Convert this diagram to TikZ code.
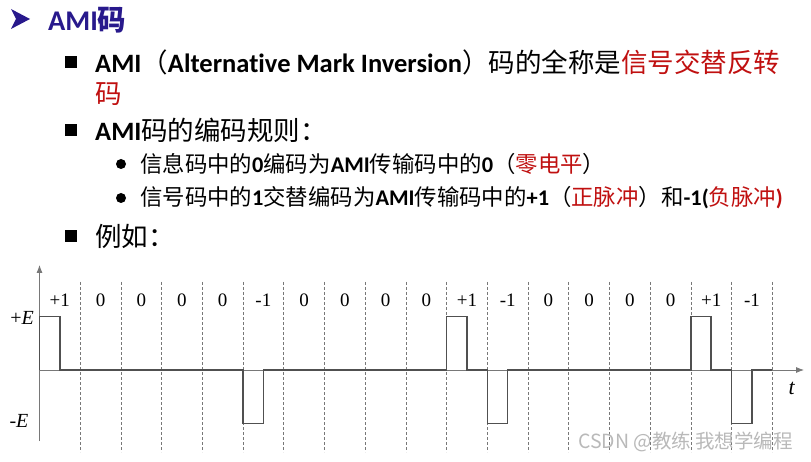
\documentclass[tikz,border=0pt]{standalone}
\usepackage{fontspec}
\setmainfont{Liberation Serif}
\newfontfamily\cjk{Noto Sans CJK SC}
\newfontfamily\latb[Ligatures=NoCommon]{Carlito}
\usetikzlibrary{arrows.meta}
\definecolor{titleblue}{RGB}{40,25,140}
\definecolor{redtxt}{RGB}{192,16,16}
\definecolor{axisgray}{RGB}{120,120,120}
\definecolor{wavegray}{RGB}{80,80,80}
\newcommand\lb[1]{{\latb\bfseries #1}}
\newcommand\rd[1]{\textcolor{redtxt}{#1}}
\def\sw{40.71}
\begin{document}
\begin{tikzpicture}[x=1pt,y=-1pt,
  txt/.style={anchor=west,inner sep=0pt,font=\cjk\fontsize{26.5}{30}\selectfont},
  subtxt/.style={anchor=west,inner sep=0pt,font=\cjk\fontsize{22.4}{26}\selectfont},
  sqbullet/.style={rectangle,fill=black,inner sep=0pt,minimum size=12pt},
  dotbullet/.style={circle,fill=black,inner sep=0pt,minimum size=10pt},
  lab/.style={inner sep=0pt,font=\fontsize{19}{22}\selectfont},
  axisline/.style={axisgray,line width=0.8pt},
  dashline/.style={axisgray,line width=0.6pt,dash pattern=on 3pt off 2pt},
  wave/.style={wavegray,line width=1.5pt,line join=miter}]
\useasboundingbox (0,0) rectangle (811,462);
\fill[white] (0,0) rectangle (811,462);
% title
\fill[titleblue] (11,9) -- (30,19) -- (11,29) -- (16,19) -- cycle;
\node[anchor=west,inner sep=0pt,text=titleblue,font=\fontsize{28.5}{32}\selectfont] (title) at (48,20) {\lb{AMI}{\cjk\bfseries 码}};
% bullet lines
\node[sqbullet] (b1) at (70.5,62) {};
\node[txt] (t1) at (95,62) {\lb{AMI}（\lb{Alternative Mark Inversion}）码的全称是\rd{信号交替反转}};
\node[txt] (t1b) at (95,94) {\rd{码}};
\node[sqbullet] (b2) at (70.5,130) {};
\node[txt] (t2) at (95,130) {\lb{AMI}码的编码规则：};
\node[dotbullet] (c1) at (121,164) {};
\node[subtxt] (t3) at (140,164) {信息码中的\lb{0}编码为\lb{AMI}传输码中的\lb{0}（\rd{零电平}）};
\node[dotbullet] (c2) at (121,198) {};
\node[subtxt] (t4) at (140,198) {信号码中的\lb{1}交替编码为\lb{AMI}传输码中的\lb{+1}（\rd{正脉冲}）和\lb{-1(}\rd{负脉冲\lb{)}}};
\node[sqbullet] (b3) at (70.5,236) {};
\node[txt] (t5) at (95,236) {例如：};
% axes
\coordinate (O) at (39.5,370);
\coordinate (ytop) at (39.5,265);
\coordinate (ybot) at (39.5,441);
\coordinate (xend) at (804,370);
\foreach \k in {1,...,18} \draw[dashline] ({39.5+\sw*\k},282) -- ({39.5+\sw*\k},452);
\draw[axisline,-{Latex[length=8pt,width=6pt]}] (ybot) -- (ytop);
\draw[axisline,-{Latex[length=8pt,width=6pt]}] (O) -- (xend);
\foreach \l [count=\i from 0] in {+1,0,0,0,0,-1,0,0,0,0,+1,-1,0,0,0,0,+1,-1}
  \node[lab] at ({39.5+\sw*(\i+0.5)},300) {\l};
\draw[wave] (O) |- ({39.5+0.5*\sw},316.7) |- ({39.5+5*\sw},370)
  |- ({39.5+5.5*\sw},423.3) |- ({39.5+10*\sw},370)
  |- ({39.5+10.5*\sw},316.7) |- ({39.5+11*\sw},370)
  |- ({39.5+11.5*\sw},423.3) |- ({39.5+16*\sw},370)
  |- ({39.5+16.5*\sw},316.7) |- ({39.5+17*\sw},370)
  |- ({39.5+17.5*\sw},423.3) |- ({39.5+18*\sw},370);
\node[lab,font=\fontsize{20}{24}\selectfont] (pE) at (22,318) {+\textit{E}};
\node[lab,font=\fontsize{20}{24}\selectfont] (mE) at (19,421) {-\textit{E}};
\node[lab,font=\fontsize{22}{24}\selectfont] (tl) at (792,388) {\textit{t}};
\node[anchor=west,inner sep=0pt,text=gray!55,font=\cjk\fontsize{19.5}{22}\selectfont] (wm) at (578,442) {CSDN @教练 我想学编程};
\end{tikzpicture}
\end{document}
